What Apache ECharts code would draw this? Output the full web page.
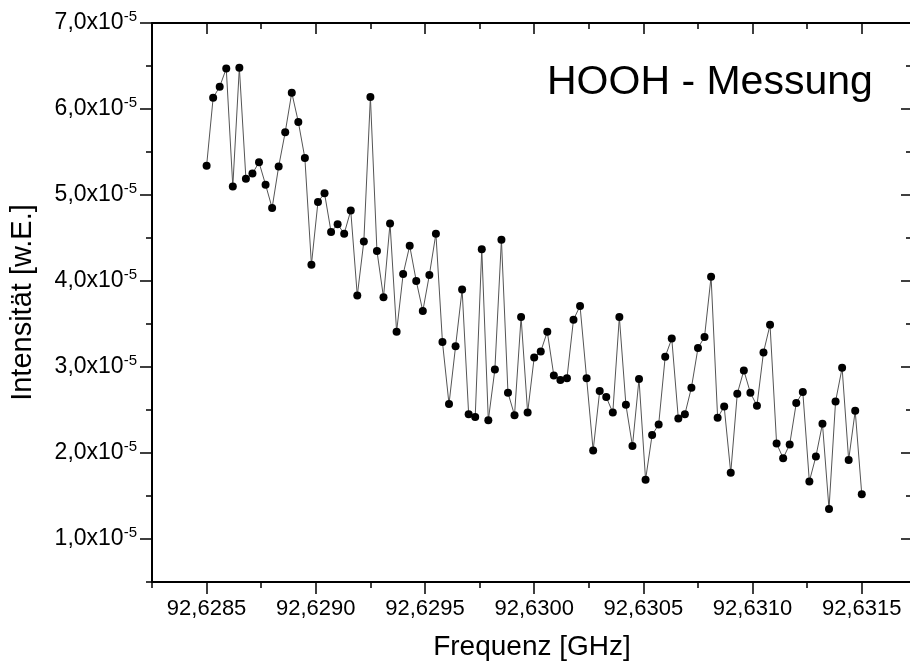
<!DOCTYPE html>
<html>
<head>
<meta charset="utf-8">
<script src="https://cdn.jsdelivr.net/npm/echarts@6/dist/echarts.min.js"></script>
<style>
    html, body {margin: 0; padding: 0; background: #fff;}
    #chart {width: 910px; height: 672px;}
</style>
</head>
<body>
<div id="chart"></div>
<script>
// Frequenz [GHz]
var frequency = [
    92.62850, 92.62853, 92.62856, 92.62859, 92.62862, 92.62865, 92.62868, 92.62871, 92.62874, 92.62877,
    92.62880, 92.62883, 92.62886, 92.62889, 92.62892, 92.62895, 92.62898, 92.62901, 92.62904, 92.62907,
    92.62910, 92.62913, 92.62916, 92.62919, 92.62922, 92.62925, 92.62928, 92.62931, 92.62934, 92.62937,
    92.62940, 92.62943, 92.62946, 92.62949, 92.62952, 92.62955, 92.62958, 92.62961, 92.62964, 92.62967,
    92.62970, 92.62973, 92.62976, 92.62979, 92.62982, 92.62985, 92.62988, 92.62991, 92.62994, 92.62997,
    92.63000, 92.63003, 92.63006, 92.63009, 92.63012, 92.63015, 92.63018, 92.63021, 92.63024, 92.63027,
    92.63030, 92.63033, 92.63036, 92.63039, 92.63042, 92.63045, 92.63048, 92.63051, 92.63054, 92.63057,
    92.63060, 92.63063, 92.63066, 92.63069, 92.63072, 92.63075, 92.63078, 92.63081, 92.63084, 92.63087,
    92.63090, 92.63093, 92.63096, 92.63099, 92.63102, 92.63105, 92.63108, 92.63111, 92.63114, 92.63117,
    92.63120, 92.63123, 92.63126, 92.63129, 92.63132, 92.63135, 92.63138, 92.63141, 92.63144, 92.63147,
    92.63150
];
// Intensität in 1e-5 w.E.
var intensity = [
    5.34, 6.13, 6.26, 6.47, 5.10, 6.48, 5.19, 5.25, 5.38, 5.12,
    4.85, 5.33, 5.73, 6.19, 5.85, 5.43, 4.19, 4.92, 5.02, 4.57,
    4.66, 4.55, 4.82, 3.83, 4.46, 6.14, 4.35, 3.81, 4.67, 3.41,
    4.08, 4.41, 4.00, 3.65, 4.07, 4.55, 3.29, 2.57, 3.24, 3.90,
    2.45, 2.42, 4.37, 2.38, 2.97, 4.48, 2.70, 2.44, 3.58, 2.47,
    3.11, 3.18, 3.41, 2.90, 2.85, 2.87, 3.55, 3.71, 2.87, 2.03,
    2.72, 2.65, 2.47, 3.58, 2.56, 2.08, 2.86, 1.69, 2.21, 2.33,
    3.12, 3.33, 2.40, 2.45, 2.76, 3.22, 3.35, 4.05, 2.41, 2.54,
    1.77, 2.69, 2.96, 2.70, 2.55, 3.17, 3.49, 2.11, 1.94, 2.10,
    2.58, 2.71, 1.67, 1.96, 2.34, 1.35, 2.60, 2.99, 1.92, 2.49,
    1.52
];
var xMajor = [92.6285, 92.6290, 92.6295, 92.6300, 92.6305, 92.6310, 92.6315];
var xMinor = [92.62825, 92.62875, 92.62925, 92.62975, 92.63025, 92.63075, 92.63125, 92.63175];
var yMajor = [1, 2, 3, 4, 5, 6, 7];
var yMinor = [0.5, 1.5, 2.5, 3.5, 4.5, 5.5, 6.5];

var font = '"Liberation Sans", Arial, sans-serif';
var xMin = 92.62825, xMax = 92.63173;
var yMin = 0.5, yMax = 7;

function makeAxis(pos, min, max, ticks, len, inside, labels) {
    var ax = {
        type: 'value',
        position: pos,
        min: min,
        max: max,
        splitLine: {show: false},
        axisLine: {show: !!labels, lineStyle: {color: '#000', width: 2}},
        axisTick: {show: true, inside: inside, length: len, customValues: ticks,
            lineStyle: {color: '#000', width: 1.5}},
        axisLabel: {show: false}
    };
    if (labels) {
        ax.axisLabel = labels;
    }
    return ax;
}

var xLabel = {
    show: true,
    customValues: xMajor,
    margin: 16,
    color: '#000',
    fontFamily: font,
    fontSize: 22,
    formatter: function (v) {
        return v.toFixed(4).replace('.', ',');
    }
};
var yLabel = {
    show: true,
    customValues: yMajor,
    margin: 15,
    color: '#000',
    formatter: function (v) {
        return '{a|' + v.toFixed(1).replace('.', ',') + 'x10}{s|-5}';
    },
    rich: {
        a: {fontFamily: font, fontSize: 23, lineHeight: 28, color: '#000'},
        s: {fontFamily: font, fontSize: 15, lineHeight: 14, verticalAlign: 'top', color: '#000'}
    }
};

var points = [];
for (var i = 0; i < frequency.length; i++) {
    points.push([frequency[i], intensity[i]]);
}

var bottomAxis = makeAxis('bottom', xMin, xMax, xMajor, 12, false, xLabel);
bottomAxis.name = 'Frequenz [GHz]';
bottomAxis.nameLocation = 'middle';
bottomAxis.nameGap = 51;
bottomAxis.nameTextStyle = {color: '#000', fontFamily: font, fontSize: 28};

var leftAxis = makeAxis('left', yMin, yMax, yMajor, 12, false, yLabel);
leftAxis.name = 'Intensität [w.E.]';
leftAxis.nameLocation = 'middle';
leftAxis.nameGap = 115;
leftAxis.nameTextStyle = {color: '#000', fontFamily: font, fontSize: 29};

var topAxis = makeAxis('top', xMin, xMax, xMajor, 11, true, null);
topAxis.axisLine.show = true;
var rightAxis = makeAxis('right', yMin, yMax, yMajor, 11, true, null);
rightAxis.axisLine.show = true;

var myChart = echarts.init(document.getElementById('chart'));
myChart.setOption({
    animation: false,
    backgroundColor: '#fff',
    grid: {left: 152, top: 23, right: -2, bottom: 90, outerBoundsMode: 'none'},
    graphic: [{
        type: 'text',
        left: 547,
        top: 62,
        style: {text: 'HOOH - Messung', fill: '#000', font: '41px ' + font}
    }],
    xAxis: [
        bottomAxis,
        makeAxis('bottom', xMin, xMax, xMinor, 6, false, null),
        topAxis,
        makeAxis('top', xMin, xMax, xMinor, 6, true, null)
    ],
    yAxis: [
        leftAxis,
        makeAxis('left', yMin, yMax, yMinor, 6, false, null),
        rightAxis,
        makeAxis('right', yMin, yMax, yMinor, 6, true, null)
    ],
    series: [{
        type: 'line',
        data: points,
        xAxisIndex: 0,
        yAxisIndex: 0,
        symbol: 'circle',
        symbolSize: 8,
        showAllSymbol: true,
        itemStyle: {color: '#000'},
        lineStyle: {color: '#555', width: 1}
    }]
});
</script>
</body>
</html>
